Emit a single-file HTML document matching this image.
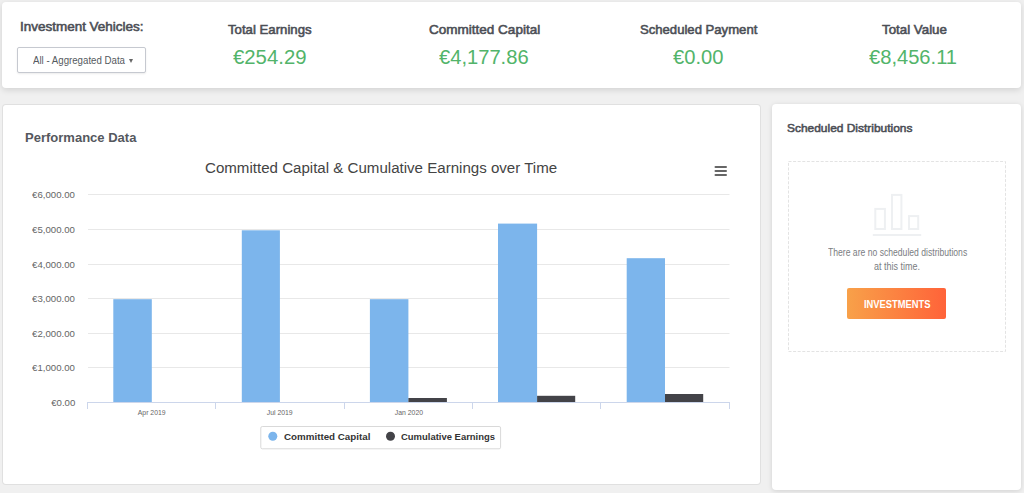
<!DOCTYPE html>
<html><head><meta charset="utf-8"><style>
html,body{margin:0;padding:0}
body{width:1024px;height:493px;background:#f0f0f0;position:relative;overflow:hidden;font-family:"Liberation Sans", sans-serif}
.card{position:absolute;background:#fff;border-radius:3px}
.tx{position:absolute;white-space:nowrap;line-height:1}
</style></head><body>
<div class="card" style="left:2px;top:2px;width:1019px;height:86px;border-radius:4px;box-shadow:0 2px 6px rgba(0,0,0,0.13)"></div>
<div class="card" style="left:3px;top:105px;width:757px;height:379px;box-shadow:0 0 0 1px #e0e0e0"></div>
<div class="card" style="left:772px;top:104px;width:249px;height:386px;border-radius:4px;box-shadow:0 1px 5px rgba(0,0,0,0.13)"></div>
<div style="position:absolute;left:17px;top:47px;width:127px;height:24px;border:1px solid #c6c9d0;border-radius:2px;box-shadow:0 1px 2px rgba(0,0,0,0.08);background:#fff"></div>
<div style="position:absolute;left:128.5px;top:59px;width:0;height:0;border-left:2.5px solid transparent;border-right:2.5px solid transparent;border-top:4px solid #666"></div>

<div style="position:absolute;left:847px;top:288px;width:99px;height:31px;border-radius:2px;background:linear-gradient(90deg,#f8a149,#ff6339)"></div>
<svg width="1024" height="493" style="position:absolute;left:0;top:0">
<rect x="88" y="194" width="641.5" height="1" fill="#e8e8e8"/><rect x="88" y="229" width="641.5" height="1" fill="#e8e8e8"/><rect x="88" y="264" width="641.5" height="1" fill="#e8e8e8"/><rect x="88" y="298" width="641.5" height="1" fill="#e8e8e8"/><rect x="88" y="333" width="641.5" height="1" fill="#e8e8e8"/><rect x="88" y="367" width="641.5" height="1" fill="#e8e8e8"/>
<rect x="113.30" y="299.20" width="38.50" height="103.80" fill="#7cb5ec"/><rect x="241.80" y="230.30" width="38.10" height="172.70" fill="#7cb5ec"/><rect x="369.90" y="299.20" width="38.50" height="103.80" fill="#7cb5ec"/><rect x="408.40" y="398.00" width="38.50" height="5.00" fill="#434348"/><rect x="498.00" y="223.60" width="39.10" height="179.40" fill="#7cb5ec"/><rect x="537.10" y="395.80" width="38.10" height="7.20" fill="#434348"/><rect x="626.70" y="258.20" width="38.30" height="144.80" fill="#7cb5ec"/><rect x="665.00" y="394.00" width="38.20" height="9.00" fill="#434348"/>
<rect x="87" y="402" width="643" height="1" fill="#ccd6eb"/>
<rect x="87" y="402" width="1" height="7" fill="#ccd6eb"/><rect x="215" y="402" width="1" height="7" fill="#ccd6eb"/><rect x="344" y="402" width="1" height="7" fill="#ccd6eb"/><rect x="472" y="402" width="1" height="7" fill="#ccd6eb"/><rect x="600" y="402" width="1" height="7" fill="#ccd6eb"/><rect x="729" y="402" width="1" height="7" fill="#ccd6eb"/>
<rect x="714.5" y="166" width="12.5" height="2" rx="1" fill="#666"/>
<rect x="714.5" y="170" width="12.5" height="2" rx="1" fill="#666"/>
<rect x="714.5" y="174" width="12.5" height="2" rx="1" fill="#666"/>
<rect x="260.8" y="426.5" width="239.8" height="22.3" rx="1.5" fill="none" stroke="#d9d9d9"/>
<circle cx="272.8" cy="436.2" r="4.5" fill="#7cb5ec"/>
<circle cx="390.5" cy="436.2" r="4.5" fill="#434348"/>
<rect x="788.5" y="161.5" width="217" height="190" fill="none" stroke="#e3e3e3" stroke-width="1" stroke-dasharray="3 1.6"/>
<g fill="none" stroke="#eef0f2" stroke-width="2">
<rect x="875.3" y="208.9" width="9.6" height="20.1"/>
<rect x="892" y="194.9" width="9.4" height="34.1"/>
<rect x="909" y="216.1" width="9.2" height="12.9"/>
</g>
<rect x="872.8" y="234" width="48.4" height="2" fill="#eef0f2"/>
</svg>
<div class="tx" style="left:20.00px;top:21.32px;font-size:12.85px;font-weight:400;color:#4b4e55;-webkit-text-stroke:0.55px #4b4e55;"><span id="t_iv" style="display:inline-block;transform:scaleX(1.0486);transform-origin:left">Investment Vehicles:</span></div>
<div class="tx" style="left:33.10px;top:55.41px;font-size:10.61px;font-weight:400;color:#555a60;"><span id="t_dd" style="display:inline-block;transform:scaleX(0.9117);transform-origin:left">All - Aggregated Data</span></div>
<div class="tx" style="left:227.80px;top:24.34px;font-size:12.71px;font-weight:400;color:#4b4e55;-webkit-text-stroke:0.55px #4b4e55;"><span id="t_te" style="display:inline-block;transform:scaleX(1.0385);transform-origin:left">Total Earnings</span></div>
<div class="tx" style="left:232.50px;top:47.55px;font-size:19.55px;font-weight:400;color:#52b46a;"><span id="v_te" style="display:inline-block;transform:scaleX(1.0412);transform-origin:left">€254.29</span></div>
<div class="tx" style="left:428.70px;top:24.34px;font-size:12.71px;font-weight:400;color:#4b4e55;-webkit-text-stroke:0.55px #4b4e55;"><span id="t_cc" style="display:inline-block;transform:scaleX(1.0641);transform-origin:left">Committed Capital</span></div>
<div class="tx" style="left:438.90px;top:47.55px;font-size:19.55px;font-weight:400;color:#52b46a;"><span id="v_cc" style="display:inline-block;transform:scaleX(1.0311);transform-origin:left">€4,177.86</span></div>
<div class="tx" style="left:640.10px;top:24.34px;font-size:12.71px;font-weight:400;color:#4b4e55;-webkit-text-stroke:0.55px #4b4e55;"><span id="t_sp" style="display:inline-block;transform:scaleX(1.0318);transform-origin:left">Scheduled Payment</span></div>
<div class="tx" style="left:673.40px;top:47.55px;font-size:19.55px;font-weight:400;color:#52b46a;"><span id="v_sp" style="display:inline-block;transform:scaleX(1.0328);transform-origin:left">€0.00</span></div>
<div class="tx" style="left:881.70px;top:24.34px;font-size:12.71px;font-weight:400;color:#4b4e55;-webkit-text-stroke:0.55px #4b4e55;"><span id="t_tv" style="display:inline-block;transform:scaleX(1.0485);transform-origin:left">Total Value</span></div>
<div class="tx" style="left:869.30px;top:47.55px;font-size:19.55px;font-weight:400;color:#52b46a;"><span id="v_tv" style="display:inline-block;transform:scaleX(1.0306);transform-origin:left">€8,456.11</span></div>
<div class="tx" style="left:25.00px;top:131.73px;font-size:12.01px;font-weight:700;color:#55585e;"><span id="t_pd" style="display:inline-block;transform:scaleX(1.0848);transform-origin:left">Performance Data</span></div>
<div class="tx" style="left:204.90px;top:161.22px;font-size:14.39px;font-weight:400;color:#444444;"><span id="t_ct" style="display:inline-block;transform:scaleX(1.0495);transform-origin:left">Committed Capital &amp; Cumulative Earnings over Time</span></div>
<div class="tx" style="left:283.60px;top:432.12px;font-size:9.78px;font-weight:700;color:#333333;"><span id="t_lg1" style="display:inline-block;transform:scaleX(1.0013);transform-origin:left">Committed Capital</span></div>
<div class="tx" style="left:401.00px;top:432.12px;font-size:9.78px;font-weight:700;color:#333333;"><span id="t_lg2" style="display:inline-block;transform:scaleX(0.9681);transform-origin:left">Cumulative Earnings</span></div>
<div class="tx" style="left:787.40px;top:122.71px;font-size:11.80px;font-weight:400;color:#4b4e55;-webkit-text-stroke:0.55px #4b4e55;"><span id="t_sd" style="display:inline-block;transform:scaleX(1.0121);transform-origin:left">Scheduled Distributions</span></div>
<div class="tx" style="left:827.50px;top:248.44px;font-size:10.00px;font-weight:400;color:#7a7d82;"><span id="t_nd1" style="display:inline-block;transform:scaleX(0.8604);transform-origin:left">There are no scheduled distributions</span></div>
<div class="tx" style="left:873.70px;top:261.94px;font-size:10.00px;font-weight:400;color:#7a7d82;"><span id="t_nd2" style="display:inline-block;transform:scaleX(0.8984);transform-origin:left">at this time.</span></div>
<div class="tx" style="left:863.90px;top:299.54px;font-size:10.00px;font-weight:700;color:#ffffff;"><span id="t_btn" style="display:inline-block;transform:scaleX(0.9363);transform-origin:left">INVESTMENTS</span></div>
<div class="tx" style="right:948.90px;top:190.89px;font-size:8.52px;font-weight:400;color:#666666;"><span id="y0" style="display:inline-block;transform:scaleX(1.1295);transform-origin:right">€6,000.00</span></div>
<div class="tx" style="right:948.90px;top:225.89px;font-size:8.52px;font-weight:400;color:#666666;"><span id="y1" style="display:inline-block;transform:scaleX(1.1295);transform-origin:right">€5,000.00</span></div>
<div class="tx" style="right:948.90px;top:260.89px;font-size:8.52px;font-weight:400;color:#666666;"><span id="y2" style="display:inline-block;transform:scaleX(1.1295);transform-origin:right">€4,000.00</span></div>
<div class="tx" style="right:948.90px;top:294.89px;font-size:8.52px;font-weight:400;color:#666666;"><span id="y3" style="display:inline-block;transform:scaleX(1.1295);transform-origin:right">€3,000.00</span></div>
<div class="tx" style="right:948.90px;top:329.89px;font-size:8.52px;font-weight:400;color:#666666;"><span id="y4" style="display:inline-block;transform:scaleX(1.1295);transform-origin:right">€2,000.00</span></div>
<div class="tx" style="right:948.90px;top:363.89px;font-size:8.52px;font-weight:400;color:#666666;"><span id="y5" style="display:inline-block;transform:scaleX(1.1295);transform-origin:right">€1,000.00</span></div>
<div class="tx" style="right:948.90px;top:398.89px;font-size:8.52px;font-weight:400;color:#666666;"><span id="y6" style="display:inline-block;transform:scaleX(1.1295);transform-origin:right">€0.00</span></div>
<div class="tx" style="left:1.80px;width:300px;text-align:center;top:408.75px;font-size:7.26px;font-weight:400;color:#666666;"><span id="x0" style="display:inline-block;transform:scaleX(0.9459);transform-origin:center">Apr 2019</span></div>
<div class="tx" style="left:130.20px;width:300px;text-align:center;top:408.75px;font-size:7.26px;font-weight:400;color:#666666;"><span id="x1" style="display:inline-block;transform:scaleX(0.9459);transform-origin:center">Jul 2019</span></div>
<div class="tx" style="left:258.60px;width:300px;text-align:center;top:408.75px;font-size:7.26px;font-weight:400;color:#666666;"><span id="x2" style="display:inline-block;transform:scaleX(0.9459);transform-origin:center">Jan 2020</span></div>
</body></html>
